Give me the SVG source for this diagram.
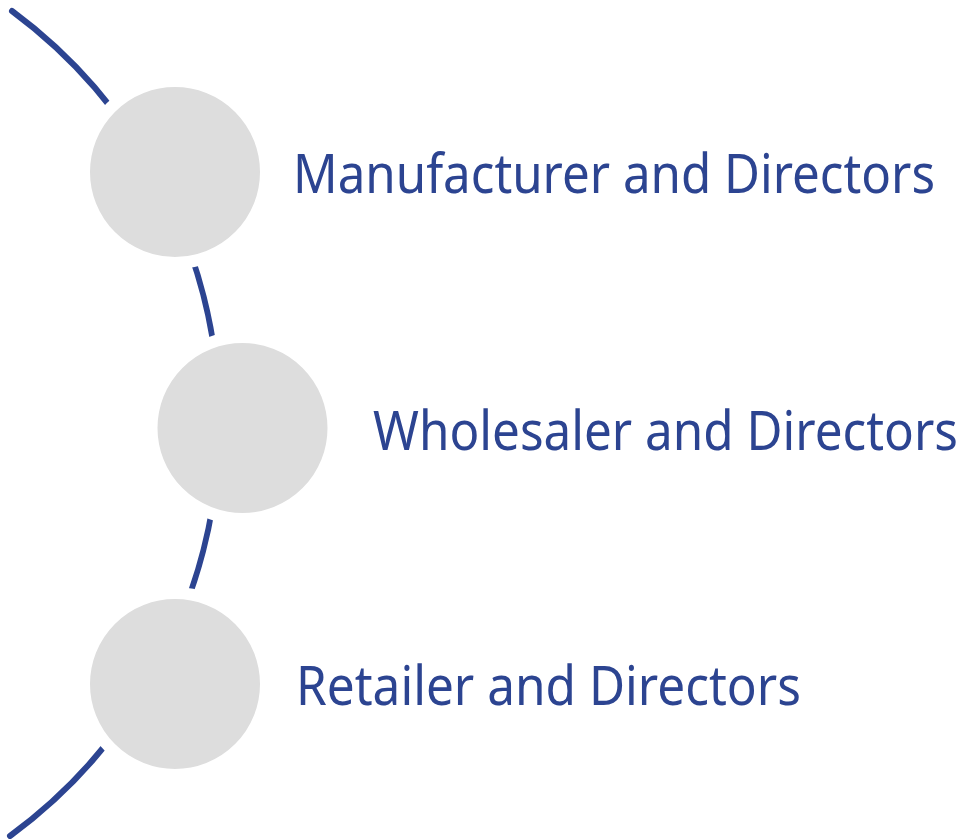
<svg xmlns="http://www.w3.org/2000/svg" width="966" height="839" viewBox="0 0 966 839">
  <style>
    .spine { fill: none; stroke: #2C4491; stroke-width: 6; stroke-linecap: round; }
    .bullet { fill: #DDDDDD; stroke: #FFFFFF; stroke-width: 12; }
    .label { font-family: "Noto Sans", "DejaVu Sans", sans-serif; font-size: 54px; fill: #2C4491; }
  </style>
  <rect width="966" height="839" fill="#FFFFFF"/>
  <g id="connectors">
    <path class="spine" d="M 12 11 A 512.5 512.5 0 0 1 10 836"/>
  </g>
  <!-- bullets: r=91 with a 12px white ring leaves an 85px grey disc and a gap in the spine -->
  <g id="node-manufacturer">
    <circle class="bullet" cx="175" cy="172" r="91"/>
    <text class="label" x="293" y="193" textLength="642" lengthAdjust="spacingAndGlyphs">Manufacturer and Directors</text>
  </g>
  <g id="node-wholesaler">
    <circle class="bullet" cx="242.5" cy="428" r="91"/>
    <text class="label" x="373" y="450" textLength="585" lengthAdjust="spacingAndGlyphs">Wholesaler and Directors</text>
  </g>
  <g id="node-retailer">
    <circle class="bullet" cx="175" cy="684" r="91"/>
    <text class="label" x="296" y="705" textLength="505" lengthAdjust="spacingAndGlyphs">Retailer and Directors</text>
  </g>
</svg>
